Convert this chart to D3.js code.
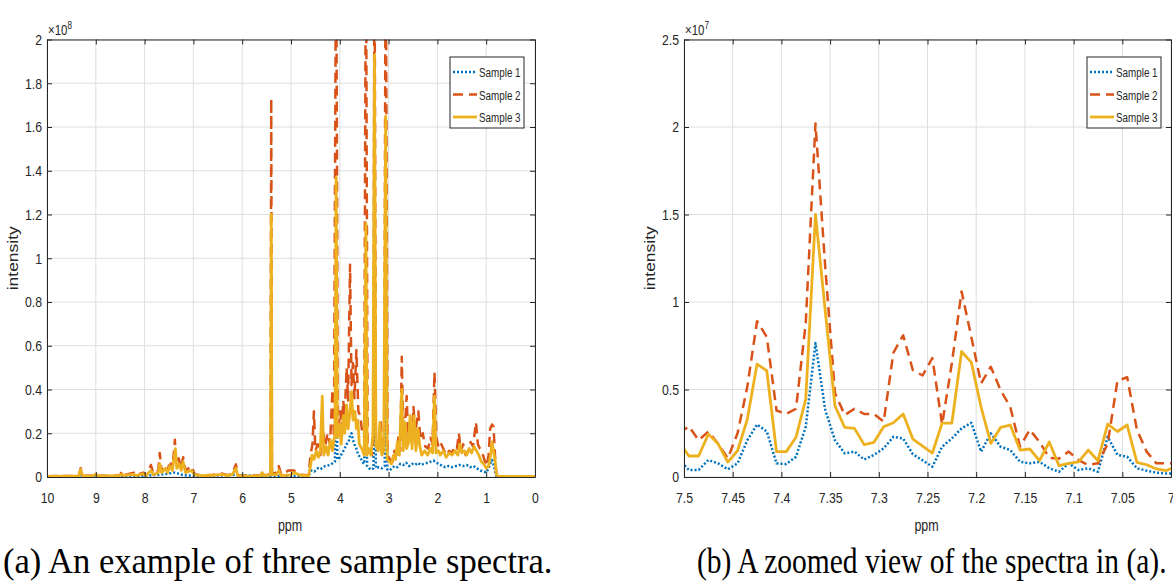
<!DOCTYPE html>
<html>
<head>
<meta charset="utf-8">
<script src="https://cdn.jsdelivr.net/npm/d3@7"></script>
<style>
  body { margin: 0; background: #fff; }
  text { font-family: 'Liberation Sans', Arial, sans-serif; fill: #262626; }
  .caption { font-family: 'Liberation Serif', 'Times New Roman', serif; fill: #000; }
</style>
</head>
<body>
<script>
// Series names and colours (MATLAB default order)
var seriesNames = ['Sample 1', 'Sample 2', 'Sample 3'];

// (a) full spectra, [ppm, intensity x1e8]
var fullS1 = [[10.0,0.002],[9.35,0.003],[9.31,0.012],[9.27,0.003],[8.5,0.004],[8.0,0.006],[7.7,0.01],[7.38,0.02],[7.2,0.008],[6.8,0.004],[6.13,0.01],[5.6,0.003],[5.42,0.005],[5.405,0.5],[5.39,0.005],[5.0,0.005],[4.64,0.005],[4.58,0.03],[4.52,0.025],[4.45,0.04],[4.4,0.035],[4.3,0.05],[4.2,0.055],[4.14,0.064],[4.1,0.07],[4.075,0.5],[4.05,0.08],[4.0,0.09],[3.95,0.11],[3.9,0.13],[3.86,0.15],[3.82,0.16],[3.79,0.19],[3.76,0.2],[3.73,0.17],[3.7,0.15],[3.66,0.13],[3.62,0.1],[3.58,0.09],[3.54,0.07],[3.5,0.06],[3.465,0.4],[3.44,0.05],[3.4,0.04],[3.36,0.033],[3.31,0.04],[3.29,0.6],[3.26,0.04],[3.2,0.045],[3.14,0.04],[3.08,0.05],[3.06,0.5],[3.03,0.035],[2.98,0.03],[2.93,0.04],[2.88,0.05],[2.82,0.045],[2.76,0.06],[2.7,0.055],[2.64,0.065],[2.58,0.05],[2.52,0.06],[2.46,0.055],[2.4,0.065],[2.34,0.055],[2.28,0.06],[2.2,0.065],[2.14,0.07],[2.08,0.075],[2.02,0.065],[1.96,0.06],[1.9,0.05],[1.84,0.045],[1.78,0.05],[1.7,0.045],[1.62,0.05],[1.55,0.055],[1.48,0.05],[1.4,0.055],[1.33,0.045],[1.26,0.05],[1.2,0.04],[1.12,0.03],[1.05,0.025],[1.0,0.02],[0.95,0.04],[0.9,0.07],[0.88,0.078],[0.84,0.05],[0.8,0.006],[0.75,0.002],[0.0,0.002]];

var fullS2 = [[10.0,0.003],[9.6,0.005],[9.35,0.005],[9.31,0.04],[9.27,0.006],[9.05,0.006],[9.0,0.016],[8.95,0.006],[8.7,0.006],[8.5,0.008],[8.47,0.025],[8.43,0.008],[8.22,0.02],[8.18,0.008],[8.03,0.02],[7.97,0.01],[7.87,0.055],[7.82,0.015],[7.72,0.03],[7.69,0.11],[7.65,0.025],[7.57,0.05],[7.53,0.025],[7.48,0.075],[7.43,0.035],[7.38,0.17],[7.35,0.06],[7.3,0.085],[7.26,0.04],[7.21,0.09],[7.16,0.03],[7.04,0.05],[6.97,0.012],[6.8,0.008],[6.6,0.01],[6.42,0.016],[6.3,0.008],[6.2,0.016],[6.13,0.058],[6.09,0.008],[5.9,0.006],[5.62,0.007],[5.59,0.025],[5.55,0.008],[5.42,0.012],[5.405,1.73],[5.39,0.015],[5.3,0.02],[5.25,0.05],[5.2,0.01],[5.05,0.03],[4.95,0.03],[4.8,0.01],[4.64,0.008],[4.6,0.1],[4.56,0.15],[4.53,0.3],[4.5,0.12],[4.45,0.15],[4.4,0.1],[4.35,0.22],[4.3,0.14],[4.25,0.2],[4.2,0.15],[4.15,0.4],[4.12,0.18],[4.075,2.6],[4.04,0.2],[3.99,0.3],[3.96,0.22],[3.93,0.35],[3.9,0.28],[3.86,0.5],[3.83,0.35],[3.79,0.97],[3.76,0.42],[3.73,0.52],[3.7,0.36],[3.66,0.58],[3.62,0.3],[3.58,0.28],[3.54,0.2],[3.5,0.18],[3.465,2.6],[3.43,0.15],[3.38,0.12],[3.34,0.1],[3.31,0.2],[3.29,2.6],[3.26,0.16],[3.21,0.13],[3.16,0.25],[3.12,0.12],[3.09,0.15],[3.06,2.6],[3.02,0.1],[2.97,0.08],[2.92,0.07],[2.88,0.12],[2.84,0.1],[2.8,0.18],[2.76,0.12],[2.73,0.55],[2.7,0.2],[2.66,0.25],[2.63,0.37],[2.6,0.18],[2.56,0.24],[2.52,0.2],[2.49,0.32],[2.45,0.2],[2.42,0.26],[2.39,0.3],[2.35,0.17],[2.3,0.2],[2.25,0.14],[2.19,0.13],[2.14,0.18],[2.1,0.15],[2.06,0.48],[2.02,0.18],[1.97,0.13],[1.92,0.15],[1.86,0.12],[1.81,0.1],[1.76,0.12],[1.7,0.11],[1.65,0.14],[1.6,0.13],[1.56,0.2],[1.52,0.12],[1.47,0.15],[1.42,0.1],[1.37,0.12],[1.32,0.16],[1.27,0.14],[1.21,0.25],[1.17,0.15],[1.13,0.13],[1.09,0.12],[1.04,0.08],[0.99,0.05],[0.95,0.1],[0.92,0.22],[0.88,0.24],[0.85,0.23],[0.82,0.1],[0.79,0.01],[0.75,0.004],[0.5,0.003],[0.0,0.003]];

var fullS3 = [[10.0,0.003],[9.6,0.004],[9.35,0.004],[9.31,0.035],[9.27,0.005],[9.05,0.006],[9.0,0.013],[8.95,0.006],[8.7,0.005],[8.5,0.007],[8.47,0.014],[8.43,0.007],[8.22,0.012],[8.18,0.006],[8.03,0.014],[7.97,0.007],[7.87,0.03],[7.82,0.01],[7.72,0.02],[7.69,0.06],[7.65,0.02],[7.57,0.04],[7.53,0.02],[7.48,0.05],[7.43,0.03],[7.37,0.13],[7.34,0.04],[7.29,0.06],[7.25,0.03],[7.21,0.07],[7.16,0.02],[7.05,0.03],[6.97,0.01],[6.8,0.006],[6.6,0.008],[6.42,0.012],[6.3,0.006],[6.2,0.012],[6.13,0.04],[6.09,0.006],[5.9,0.004],[5.62,0.005],[5.59,0.02],[5.55,0.006],[5.42,0.01],[5.405,1.2],[5.39,0.012],[5.3,0.01],[5.25,0.03],[5.2,0.006],[5.0,0.01],[4.95,0.02],[4.8,0.008],[4.64,0.006],[4.6,0.05],[4.57,0.1],[4.53,0.08],[4.48,0.12],[4.44,0.09],[4.4,0.12],[4.36,0.37],[4.33,0.1],[4.28,0.14],[4.24,0.1],[4.19,0.17],[4.15,0.12],[4.1,0.2],[4.075,1.37],[4.05,0.18],[4.0,0.24],[3.97,0.15],[3.93,0.28],[3.9,0.2],[3.86,0.33],[3.83,0.22],[3.79,0.3],[3.76,0.39],[3.73,0.26],[3.69,0.3],[3.66,0.22],[3.63,0.26],[3.6,0.15],[3.55,0.13],[3.5,0.1],[3.465,1.16],[3.44,0.1],[3.4,0.13],[3.36,0.1],[3.32,0.2],[3.29,1.93],[3.26,0.14],[3.21,0.12],[3.18,0.25],[3.14,0.1],[3.1,0.12],[3.06,1.65],[3.03,0.08],[2.98,0.07],[2.94,0.06],[2.9,0.1],[2.86,0.08],[2.82,0.16],[2.78,0.1],[2.73,0.4],[2.7,0.12],[2.66,0.25],[2.63,0.13],[2.59,0.16],[2.56,0.28],[2.52,0.13],[2.48,0.28],[2.44,0.12],[2.4,0.22],[2.36,0.14],[2.32,0.1],[2.26,0.12],[2.2,0.1],[2.14,0.13],[2.1,0.11],[2.06,0.37],[2.03,0.11],[1.98,0.12],[1.94,0.1],[1.88,0.12],[1.82,0.09],[1.76,0.11],[1.7,0.1],[1.64,0.12],[1.58,0.1],[1.54,0.15],[1.5,0.11],[1.45,0.12],[1.4,0.1],[1.35,0.13],[1.3,0.11],[1.25,0.14],[1.2,0.12],[1.15,0.1],[1.1,0.07],[1.05,0.06],[1.0,0.04],[0.95,0.05],[0.91,0.1],[0.88,0.16],[0.85,0.12],[0.82,0.08],[0.79,0.01],[0.75,0.004],[0.5,0.003],[0.0,0.003]];

// (b) zoomed spectra, intensity x1e7 at these ppm values
var zoomPpm = [7.505,7.495,7.485,7.475,7.465,7.455,7.445,7.435,7.425,7.415,7.405,7.395,7.385,7.375,7.365,7.355,7.345,7.335,7.325,7.315,7.305,7.295,7.285,7.275,7.265,7.255,7.245,7.235,7.225,7.215,7.205,7.195,7.185,7.175,7.165,7.155,7.145,7.135,7.125,7.115,7.105,7.095,7.085,7.075,7.065,7.055,7.045,7.035,7.025,7.015,7.005,6.995];
var zoomS1 = [0.1,0.04,0.04,0.097,0.078,0.044,0.078,0.21,0.3,0.26,0.078,0.074,0.116,0.287,0.765,0.383,0.21,0.135,0.145,0.1,0.126,0.164,0.23,0.22,0.13,0.095,0.059,0.173,0.22,0.278,0.31,0.145,0.25,0.173,0.154,0.087,0.078,0.087,0.05,0.03,0.078,0.04,0.05,0.03,0.23,0.126,0.116,0.05,0.036,0.025,0.02,0.02];
var zoomS2 = [0.25,0.29,0.21,0.26,0.19,0.107,0.25,0.516,0.89,0.8,0.38,0.36,0.39,0.88,2.02,1.2,0.48,0.354,0.39,0.36,0.36,0.316,0.71,0.81,0.61,0.58,0.68,0.3,0.65,1.06,0.8,0.535,0.63,0.497,0.4,0.173,0.27,0.2,0.11,0.105,0.145,0.097,0.069,0.078,0.19,0.55,0.57,0.27,0.145,0.078,0.078,0.08];
var zoomS3 = [0.2,0.12,0.12,0.245,0.19,0.085,0.15,0.33,0.645,0.607,0.145,0.145,0.227,0.445,1.5,0.95,0.407,0.283,0.278,0.185,0.198,0.287,0.31,0.36,0.217,0.177,0.137,0.308,0.308,0.717,0.655,0.4,0.192,0.283,0.297,0.154,0.16,0.093,0.2,0.065,0.078,0.087,0.154,0.093,0.302,0.26,0.297,0.084,0.07,0.046,0.036,0.06];

// Axis ticks and labels
var fullXTicks = [10,9,8,7,6,5,4,3,2,1,0];
var fullYTicks = [0,0.2,0.4,0.6,0.8,1,1.2,1.4,1.6,1.8,2];
var fullYLabels = ['0','0.2','0.4','0.6','0.8','1','1.2','1.4','1.6','1.8','2'];
var zoomXTicks = [7.5,7.45,7.4,7.35,7.3,7.25,7.2,7.15,7.1,7.05,7];
var zoomXLabels = ['7.5','7.45','7.4','7.35','7.3','7.25','7.2','7.15','7.1','7.05','7'];
var zoomYTicks = [0,0.5,1,1.5,2,2.5];
var zoomYLabels = ['0','0.5','1','1.5','2','2.5'];

var colors = ['#0072BD', '#D95319', '#EDB120'];
var dashes = ['2,2', '10,6', null];
var widths = [2.5, 2.5, 2.8];

var svg = d3.select('body').append('svg')
    .attr('width', 1173)
    .attr('height', 581);

// the original figure is squeezed sideways: shrink text horizontally
function squeeze(sel, sx) {
    sel.each(function() {
        var t = d3.select(this);
        var tx = +t.attr('x') || 0, ty = +t.attr('y') || 0;
        t.attr('x', 0).attr('y', 0)
         .attr('transform', 'translate(' + tx + ',' + ty + ') scale(' + sx + ',1)');
    });
}

function drawPanel(p) {
    var x = d3.scaleLinear().domain(p.xDomain).range([p.left, p.right]);
    var y = d3.scaleLinear().domain(p.yDomain).range([p.bottom, p.top]);
    var g = svg.append('g');

    // grid
    g.append('g').selectAll('line').data(p.xTicks).enter().append('line')
        .attr('x1', d => x(d)).attr('x2', d => x(d))
        .attr('y1', p.top).attr('y2', p.bottom)
        .attr('stroke', '#dedede').attr('stroke-width', 1);
    g.append('g').selectAll('line').data(p.yTicks).enter().append('line')
        .attr('x1', p.left).attr('x2', p.right)
        .attr('y1', d => y(d)).attr('y2', d => y(d))
        .attr('stroke', '#dedede').attr('stroke-width', 1);

    // clip to the plot box
    svg.append('clipPath').attr('id', p.id + 'clip').append('rect')
        .attr('x', p.left).attr('y', p.top)
        .attr('width', p.right - p.left).attr('height', p.bottom - p.top);

    var line = d3.line().x(d => x(d[0])).y(d => y(d[1]));
    var lines = g.append('g').attr('clip-path', 'url(#' + p.id + 'clip)');
    p.series.forEach(function(s, i) {
        lines.append('path')
            .attr('d', line(s))
            .attr('fill', 'none')
            .attr('stroke', colors[i])
            .attr('stroke-width', widths[i])
            .attr('stroke-dasharray', dashes[i])
            .attr('stroke-linejoin', 'round');
    });

    // axes, ticks inward (MATLAB box style)
    var fmtX = (d, i) => p.xLabels[i], fmtY = (d, i) => p.yLabels[i];
    var axes = [
        [d3.axisBottom(x).tickValues(p.xTicks).tickFormat(fmtX).tickPadding(15), 'translate(0,' + p.bottom + ')'],
        [d3.axisTop(x).tickValues(p.xTicks).tickFormat(''), 'translate(0,' + p.top + ')'],
        [d3.axisLeft(y).tickValues(p.yTicks).tickFormat(fmtY).tickPadding(5), 'translate(' + p.left + ',0)'],
        [d3.axisRight(y).tickValues(p.yTicks).tickFormat(''), 'translate(' + p.right + ',0)']
    ];
    axes.forEach(function(a) {
        var ax = g.append('g').attr('transform', a[1])
            .call(a[0].tickSizeInner(-5).tickSizeOuter(0));
        ax.selectAll('path, line').attr('stroke', '#262626');
        var tx = ax.selectAll('text').style('font-size', '15px').attr('fill', '#262626')
            .style('font-family', "'Liberation Sans', Arial, sans-serif");
        squeeze(tx, 0.82);
    });

    // exponent label
    var ex = g.append('text').attr('x', p.left + 1).attr('y', p.top - 5)
        .style('font-size', '14px').attr('fill', '#555');
    ex.append('tspan').text('\u00d710');
    ex.append('tspan').attr('dy', -6).style('font-size', '10px').text(p.exponent);
    squeeze(ex, 0.82);

    // axis labels
    var xl = g.append('text').text('ppm')
        .attr('x', (p.left + p.right) / 2 - 1).attr('y', 531)
        .attr('text-anchor', 'middle').style('font-size', '16px');
    squeeze(xl, 0.78);
    g.append('text').text('intensity')
        .attr('transform', 'translate(' + (p.left - 29) + ',' + ((p.top + p.bottom) / 2) + ') rotate(-90) scale(1,0.8)')
        .attr('text-anchor', 'middle').style('font-size', '17.5px');

    // legend
    var lg = g.append('g').attr('transform', 'translate(' + p.legendX + ',57)');
    lg.append('rect').attr('width', 74).attr('height', 71)
        .attr('fill', '#fff').attr('stroke', '#262626').attr('stroke-width', 1);
    seriesNames.forEach(function(name, i) {
        var ly = 15 + i * 22.5;
        lg.append('line').attr('x1', 3).attr('x2', 27).attr('y1', ly).attr('y2', ly)
            .attr('stroke', colors[i]).attr('stroke-width', widths[i])
            .attr('stroke-dasharray', dashes[i]);
        var lt = lg.append('text').text(name).attr('x', 29).attr('y', ly + 5)
            .style('font-size', '13.5px');
        squeeze(lt, 0.73);
    });

    // caption
    var cp = svg.append('text').attr('class', 'caption').text(p.caption)
        .attr('x', p.capX).attr('y', 573)
        .style('font-size', '36px');
    squeeze(cp, p.capScale);
}

drawPanel({
    id: 'a', left: 47, right: 535, top: 39.5, bottom: 477,
    xDomain: [10, 0], yDomain: [0, 2],
    xTicks: fullXTicks, xLabels: fullXTicks.map(String),
    yTicks: fullYTicks, yLabels: fullYLabels,
    series: [fullS1, fullS2, fullS3],
    exponent: '8', legendX: 450,
    caption: '(a) An example of three sample spectra.', capX: 3, capScale: 0.96
});

drawPanel({
    id: 'b', left: 684, right: 1171, top: 39.5, bottom: 477,
    xDomain: [7.5, 7.0], yDomain: [0, 2.5],
    xTicks: zoomXTicks, xLabels: zoomXLabels,
    yTicks: zoomYTicks, yLabels: zoomYLabels,
    series: [zoomS1, zoomS2, zoomS3].map(s => s.map((v, i) => [zoomPpm[i], v])),
    exponent: '7', legendX: 1087,
    caption: '(b) A zoomed view of the spectra in (a).', capX: 697, capScale: 0.82
});
</script>
</body>
</html>
